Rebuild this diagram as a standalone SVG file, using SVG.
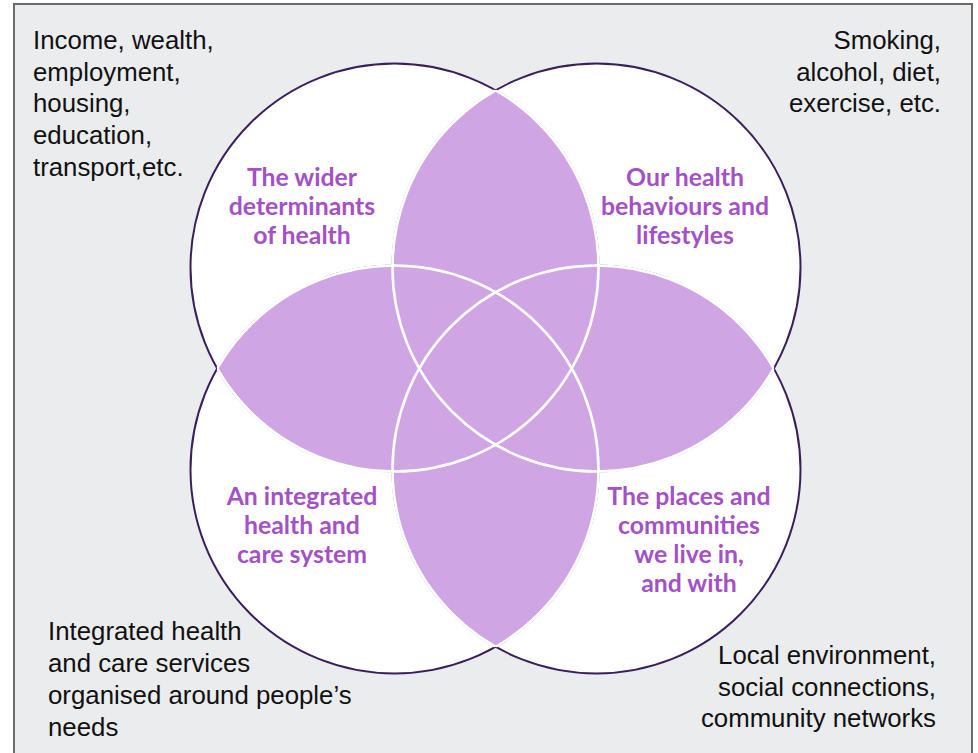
<svg xmlns="http://www.w3.org/2000/svg" width="978" height="753" viewBox="0 0 978 753">
<style>
.body{font-family:"Liberation Sans",Arial,sans-serif;font-size:25.8px;fill:#111}
.title{font-family:Lato,"Liberation Sans",sans-serif;font-weight:bold;font-size:24.8px;fill:#a450c6;text-anchor:middle}
.ring{fill:none;stroke:#3a1f5c;stroke-width:2}
.inner{fill:none;stroke:#ffffff;stroke-width:2.6}
.lens{fill:#cfa5e3}
</style>
<defs>
<circle id="cTL" cx="394.5" cy="267.5" r="204"/>
<circle id="cTR" cx="596.5" cy="267.5" r="204"/>
<circle id="cBL" cx="394.5" cy="469.5" r="204"/>
<circle id="cBR" cx="596.5" cy="469.5" r="204"/>
<clipPath id="kTL"><use href="#cTL"/></clipPath>
<clipPath id="kTR"><use href="#cTR"/></clipPath>
<clipPath id="kBL"><use href="#cBL"/></clipPath>
<clipPath id="kBR"><use href="#cBR"/></clipPath>
<clipPath id="oTL"><use href="#cTR"/><use href="#cBL"/><use href="#cBR"/></clipPath>
<clipPath id="oTR"><use href="#cTL"/><use href="#cBL"/><use href="#cBR"/></clipPath>
<clipPath id="oBL"><use href="#cTL"/><use href="#cTR"/><use href="#cBR"/></clipPath>
<clipPath id="oBR"><use href="#cTL"/><use href="#cTR"/><use href="#cBL"/></clipPath>
</defs>
<rect x="0" y="0" width="978" height="753" fill="#ffffff"/>
<rect x="14" y="4" width="958" height="760" fill="#ebecee" stroke="#6b6b6b" stroke-width="2"/>

<g id="circles">
<use href="#cTL" fill="#fff"/>
<use href="#cTR" fill="#fff"/>
<use href="#cBL" fill="#fff"/>
<use href="#cBR" fill="#fff"/>
<use href="#cTL" class="ring"/>
<use href="#cTR" class="ring"/>
<use href="#cBL" class="ring"/>
<use href="#cBR" class="ring"/>
</g>
<g id="overlaps">
<use href="#cTR" class="lens" clip-path="url(#kTL)"/>
<use href="#cBL" class="lens" clip-path="url(#kTL)"/>
<use href="#cBR" class="lens" clip-path="url(#kTL)"/>
<use href="#cBL" class="lens" clip-path="url(#kTR)"/>
<use href="#cBR" class="lens" clip-path="url(#kTR)"/>
<use href="#cBR" class="lens" clip-path="url(#kBL)"/>
<g clip-path="url(#oTL)"><use href="#cTL" class="inner"/></g>
<g clip-path="url(#oTR)"><use href="#cTR" class="inner"/></g>
<g clip-path="url(#oBL)"><use href="#cBL" class="inner"/></g>
<g clip-path="url(#oBR)"><use href="#cBR" class="inner"/></g>
</g>

<g id="node-wider">
<text class="title" x="302" y="186">The wider</text>
<text class="title" x="302" y="215">determinants</text>
<text class="title" x="302" y="244">of health</text>
</g>
<g id="node-behaviours">
<text class="title" x="685" y="186">Our health</text>
<text class="title" x="685" y="215">behaviours and</text>
<text class="title" x="685" y="244">lifestyles</text>
</g>
<g id="node-integrated">
<text class="title" x="302" y="505">An integrated</text>
<text class="title" x="302" y="534">health and</text>
<text class="title" x="302" y="563">care system</text>
</g>
<g id="node-places">
<text class="title" x="689" y="505">The places and</text>
<text class="title" x="689" y="534">communities</text>
<text class="title" x="689" y="563">we live in,</text>
<text class="title" x="689" y="592">and with</text>
</g>

<g id="note-tl">
<text class="body" x="33" y="49">Income, wealth,</text>
<text class="body" x="33" y="81">employment,</text>
<text class="body" x="33" y="112">housing,</text>
<text class="body" x="33" y="144">education,</text>
<text class="body" x="33" y="176">transport,etc.</text>
</g>
<g id="note-tr">
<text class="body" x="941" y="49" text-anchor="end">Smoking,</text>
<text class="body" x="941" y="81" text-anchor="end">alcohol, diet,</text>
<text class="body" x="941" y="112" text-anchor="end">exercise, etc.</text>
</g>
<g id="note-bl">
<text class="body" x="48" y="640">Integrated health</text>
<text class="body" x="48" y="672">and care services</text>
<text class="body" x="48" y="704">organised around people’s</text>
<text class="body" x="48" y="736">needs</text>
</g>
<g id="note-br">
<text class="body" x="936" y="664" text-anchor="end">Local environment,</text>
<text class="body" x="936" y="696" text-anchor="end">social connections,</text>
<text class="body" x="936" y="727" text-anchor="end">community networks</text>
</g>
</svg>
